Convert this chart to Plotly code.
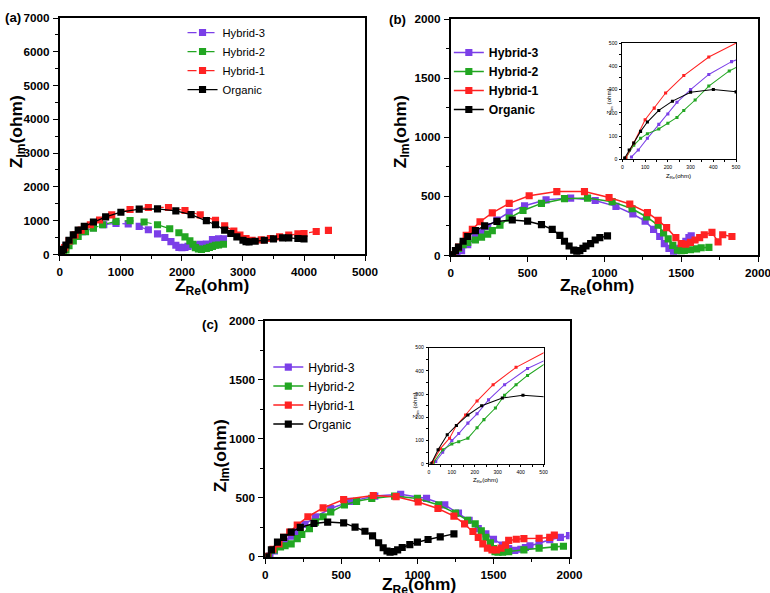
import plotly.graph_objects as go

# ---------------- Panel (a) data ----------------
A_H3_X = [20, 50, 100, 170, 250, 370, 550, 720, 920, 1120, 1300, 1450, 1600, 1720, 1820, 1900, 1950, 2000, 2050, 2100, 2200, 2300, 2400, 2500, 2600, 2680]
A_H3_Y = [30, 120, 250, 400, 530, 670, 790, 880, 920, 900, 830, 730, 610, 500, 380, 270, 210, 200, 210, 240, 280, 300, 310, 440, 460, 460]
A_H2_X = [60, 100, 150, 220, 300, 420, 550, 700, 920, 1150, 1380, 1600, 1800, 1950, 2050, 2130, 2180, 2220, 2270, 2320, 2400, 2450, 2500, 2550, 2600, 2680]
A_H2_Y = [40, 130, 260, 400, 530, 670, 780, 880, 980, 1000, 960, 880, 760, 640, 520, 400, 300, 200, 160, 150, 180, 210, 240, 270, 280, 300]
A_H1_X = [30, 80, 150, 250, 350, 500, 650, 850, 1150, 1450, 1780, 2050, 2300, 2550, 2700, 2850, 2950, 3050, 3150, 3300, 3450, 3600, 3750, 3900, 4000, 4200, 4400]
A_H1_Y = [60, 200, 400, 580, 720, 880, 1020, 1170, 1330, 1390, 1390, 1300, 1170, 1010, 850, 690, 570, 470, 420, 430, 470, 520, 570, 610, 620, 680, 710]
A_OR_X = [30, 60, 100, 150, 220, 300, 400, 550, 750, 1000, 1300, 1600, 1900, 2150, 2400, 2550, 2700, 2800, 2900, 3000, 3050, 3100, 3200, 3350, 3500, 3650, 3750, 3900, 4000]
A_OR_Y = [50, 150, 280, 420, 580, 720, 830, 960, 1110, 1250, 1340, 1350, 1290, 1180, 1000, 880, 720, 620, 520, 420, 380, 370, 390, 420, 460, 490, 490, 470, 460]

# ---------------- Panel (b) data ----------------
B_H3_X = [40, 70, 110, 160, 200, 240, 300, 380, 480, 620, 780, 940, 1075, 1185, 1265, 1320, 1360, 1390, 1420, 1450, 1470, 1490, 1510, 1530, 1550, 1565]
B_H3_Y = [10, 40, 90, 150, 195, 245, 300, 365, 420, 470, 485, 465, 415, 350, 290, 220, 160, 100, 60, 35, 40, 60, 90, 120, 150, 165]
B_H2_X = [15, 50, 80, 110, 160, 200, 240, 270, 320, 380, 470, 590, 740, 890, 1050, 1180, 1275, 1350, 1385, 1415, 1445, 1475, 1500, 1520, 1560, 1600, 1630, 1680]
B_H2_Y = [5, 60, 90, 110, 130, 155, 180, 210, 255, 315, 380, 440, 480, 485, 455, 395, 325, 255, 190, 140, 85, 45, 40, 42, 48, 55, 65, 68]
B_H1_X = [15, 50, 100, 140, 190, 270, 380, 510, 690, 870, 1030, 1165, 1280, 1350, 1405, 1465, 1500, 1530, 1560, 1590, 1620, 1650, 1700, 1740, 1770, 1830]
B_H1_Y = [5, 70, 170, 220, 285, 360, 440, 505, 540, 540, 490, 435, 362, 297, 235, 150, 100, 95, 110, 130, 150, 175, 195, 115, 175, 160]
B_OR_X = [10, 30, 50, 80, 110, 160, 220, 300, 400, 500, 590, 660, 710, 740, 770, 800, 820, 840, 860, 880, 910, 940, 970, 1020]
B_OR_Y = [5, 40, 70, 120, 160, 210, 250, 288, 300, 290, 260, 220, 170, 120, 80, 45, 35, 40, 60, 80, 100, 130, 150, 165]

# ---------------- Panel (c) data ----------------
C_H3_X = [30, 60, 100, 130, 170, 210, 260, 330, 430, 560, 720, 890, 1060, 1180, 1270, 1340, 1400, 1450, 1500, 1560, 1600, 1640, 1680, 1710, 1740, 1800, 1870, 1940, 2000]
C_H3_Y = [10, 50, 100, 130, 175, 215, 275, 340, 410, 470, 515, 530, 495, 440, 370, 310, 240, 195, 150, 100, 70, 55, 65, 80, 95, 115, 145, 165, 180]
C_H2_X = [20, 60, 100, 130, 170, 210, 240, 290, 330, 380, 430, 520, 600, 700, 850, 1000, 1140, 1250, 1330, 1380, 1420, 1450, 1480, 1500, 1510, 1530, 1560, 1600, 1700, 1800, 1900, 1960]
C_H2_Y = [5, 60, 85, 95, 110, 155, 190, 240, 295, 340, 380, 440, 470, 495, 515, 495, 440, 370, 310, 280, 220, 165, 120, 70, 45, 40, 40, 45, 60, 75, 85, 90]
C_H1_X = [15, 50, 90, 120, 160, 210, 280, 380, 515, 710, 860, 1005, 1135, 1240, 1310, 1365, 1400, 1430, 1460, 1490, 1520, 1550, 1580, 1600, 1650, 1700, 1800, 1870, 1900]
C_H1_Y = [5, 65, 110, 165, 210, 270, 340, 415, 485, 520, 510, 465, 410, 345, 280, 215, 165, 110, 75, 60, 60, 75, 100, 140, 150, 155, 158, 165, 185]
C_OR_X = [10, 40, 80, 120, 170, 230, 320, 410, 515, 590, 655, 705, 745, 775, 800, 820, 845, 870, 900, 950, 1000, 1070, 1150, 1240]
C_OR_Y = [0, 60, 125, 165, 210, 250, 283, 295, 288, 252, 217, 178, 120, 78, 50, 40, 45, 60, 80, 104, 125, 147, 170, 195]

NAMES = ["Hybrid-3", "Hybrid-2", "Hybrid-1", "Organic"]
COLORS = ["#7B3FE8", "#22A622", "#FF2222", "#000000"]

# positions are given in target-picture pixels (770x593); the canvas is laid
# out slightly larger (K) to match how the page is captured
TW, TH = 770, 593
W, H = 785, 607
K = W / TW
def px(x0, x1):
    return [x0 / TW, x1 / TW]
def py(top, bottom):
    return [1 - bottom / TH, 1 - top / TH]
def f(s):
    return s * K

FONT = "Liberation Sans"
fig = go.Figure()

def add(xs, ys, name, color, dash, xa, ya, legend, msize, lw, showlegend=True):
    fig.add_trace(go.Scatter(
        x=xs, y=ys, name=name, mode="lines+markers",
        line=dict(color=color, width=f(lw), dash=dash),
        marker=dict(symbol="square", size=f(msize), color=color),
        xaxis=xa, yaxis=ya, legend=legend, showlegend=showlegend))

panel_a = [(A_H3_X, A_H3_Y), (A_H2_X, A_H2_Y), (A_H1_X, A_H1_Y), (A_OR_X, A_OR_Y)]
panel_b = [(B_H3_X, B_H3_Y), (B_H2_X, B_H2_Y), (B_H1_X, B_H1_Y), (B_OR_X, B_OR_Y)]
panel_c = [(C_H3_X, C_H3_Y), (C_H2_X, C_H2_Y), (C_H1_X, C_H1_Y), (C_OR_X, C_OR_Y)]

dash_a = ["dash", "dash", "dash", "solid"]
for i, (xs, ys) in enumerate(panel_a):
    add(xs, ys, NAMES[i], COLORS[i], dash_a[i], "x", "y", "legend", 7, 1.2)
for i, (xs, ys) in enumerate(panel_b):
    add(xs, ys, NAMES[i], COLORS[i], "solid", "x2", "y2", "legend2", 7, 1.5)
for i, (xs, ys) in enumerate(panel_b):
    add(xs, ys, NAMES[i], COLORS[i], "solid", "x3", "y3", "legend2", 3, 1, showlegend=False)
for i, (xs, ys) in enumerate(panel_c):
    add(xs, ys, NAMES[i], COLORS[i], "solid", "x4", "y4", "legend3", 7, 1.5)
for i, (xs, ys) in enumerate(panel_c):
    add(xs, ys, NAMES[i], COLORS[i], "solid", "x5", "y5", "legend3", 3, 1, showlegend=False)

def axis(domain, rng, dtick, anchor, fs, minor_dtick, lw=1.5, tl=5, bold=True):
    return dict(domain=domain, range=rng, dtick=dtick, tick0=0, anchor=anchor,
                showgrid=False, zeroline=False, showline=True, linecolor="black",
                linewidth=f(lw), mirror=True, ticks="outside", ticklen=f(tl), tickcolor="black",
                tickwidth=1, ticklabelstandoff=1,
                tickfont=dict(size=f(fs), family=FONT, color="black", weight="bold" if bold else "normal"),
                minor=dict(ticks="outside", ticklen=f(max(2, tl - 2)), dtick=minor_dtick, tickcolor="black", showgrid=False))

TICK_FS = 11.5
layout = dict(
    width=W, height=H, margin=dict(l=0, r=0, t=0, b=0),
    paper_bgcolor="white", plot_bgcolor="white",
    font=dict(family=FONT, color="black"),
    xaxis=axis(px(57, 363), [0, 5000], 1000, "y", TICK_FS, 500),
    yaxis=axis(py(11, 247), [0, 7000], 1000, "x", TICK_FS, 500),
    xaxis2=axis(px(449, 757), [0, 2000], 500, "y2", TICK_FS, 250),
    yaxis2=axis(py(12, 248), [0, 2000], 500, "x2", TICK_FS, 250),
    xaxis3=axis(px(621, 735), [0, 500], 100, "y3", 5, 50, lw=1, tl=2, bold=False),
    yaxis3=axis(py(36, 152), [0, 500], 100, "x3", 5, 50, lw=1, tl=2, bold=False),
    xaxis4=axis(px(263, 568), [0, 2000], 500, "y4", TICK_FS, 250),
    yaxis4=axis(py(313, 549), [0, 2000], 500, "x4", TICK_FS, 250),
    xaxis5=axis(px(427, 542), [0, 500], 100, "y5", 5, 50, lw=1, tl=2, bold=False),
    yaxis5=axis(py(340, 456), [0, 500], 100, "x5", 5, 50, lw=1, tl=2, bold=False),
    legend=dict(x=180 / TW, y=1 - 11 / TH, xanchor="left", yanchor="top",
                bgcolor="rgba(0,0,0,0)", font=dict(size=f(11), family=FONT),
                itemwidth=30, tracegroupgap=0),
    legend2=dict(x=447 / TW, y=1 - 31 / TH, xanchor="left", yanchor="top",
                 bgcolor="rgba(0,0,0,0)", font=dict(size=f(12), family=FONT, weight="bold"),
                 itemwidth=30, tracegroupgap=0),
    legend3=dict(x=266 / TW, y=1 - 345 / TH, xanchor="left", yanchor="top",
                 bgcolor="rgba(0,0,0,0)", font=dict(size=f(12), family=FONT),
                 itemwidth=30, tracegroupgap=0),
)
fig.update_layout(**layout)

ann = []
def text(x, y, t, size, angle=0, bold=True):
    ann.append(dict(x=x / TW, y=1 - y / TH, xref="paper", yref="paper", text=t,
                    showarrow=False, textangle=angle, xanchor="center", yanchor="middle",
                    font=dict(size=size * K, family=FONT, color="black", weight="bold" if bold else "normal")))

# panel labels
text(10, 10, "(a)", 13)
text(396, 12, "(b)", 13)
text(208, 317, "(c)", 13)
# axis titles
text(14, 124, "Z<sub>Im</sub>(ohm)", 17, -90)
text(210, 279, "Z<sub>Re</sub>(ohm)", 17)
text(399, 124, "Z<sub>Im</sub>(ohm)", 17, -90)
text(596, 279, "Z<sub>Re</sub>(ohm)", 17)
text(219, 448, "Z<sub>Im</sub>(ohm)", 17, -90)
text(417, 578, "Z<sub>Re</sub>(ohm)", 17)
# inset titles
text(608, 94, "Z<sub>Im</sub> (ohm)", 6, -90, bold=False)
text(677, 169, "Z<sub>Re</sub>(ohm)", 6, bold=False)
text(413, 398, "Z<sub>Im</sub> (ohm)", 6, -90, bold=False)
text(484, 472, "Z<sub>Re</sub>(ohm)", 6, bold=False)
fig.update_layout(annotations=ann)

POST = (
    "document.documentElement.style.margin='0';"
    "document.body.style.margin='0';"
    "document.body.style.overflow='hidden';"
)
fig.write_html("out.html", config={"displayModeBar": False}, post_script=POST)
